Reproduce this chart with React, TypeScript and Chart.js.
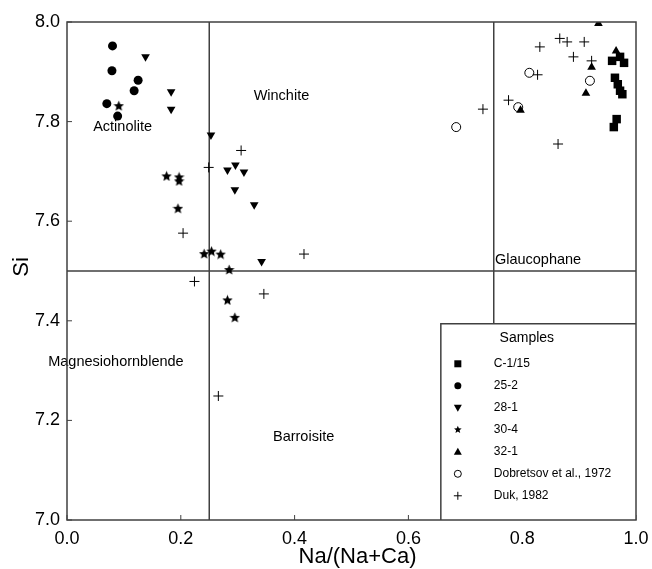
import React, { useEffect, useRef } from 'react';
import { Chart, registerables } from 'chart.js';

Chart.register(...registerables);

const FONT = '"Liberation Sans", Arial, sans-serif';
const LINE = '#404040';

const xTickValues = [0, 0.2, 0.4, 0.6, 0.8, 1.0];
const yTickValues = [7.0, 7.2, 7.4, 7.6, 7.8, 8.0];

const seriesNames = ['C-1/15', '25-2', '28-1', '30-4', '32-1', 'Dobretsov et al., 1972', 'Duk, 1982'];

const c115X = [0.958, 0.972, 0.979, 0.963, 0.968, 0.972, 0.976, 0.961, 0.966];
const c115Y = [7.922, 7.930, 7.918, 7.888, 7.875, 7.862, 7.855, 7.789, 7.805];

const s252X = [0.080, 0.079, 0.125, 0.118, 0.070, 0.089];
const s252Y = [7.952, 7.902, 7.883, 7.862, 7.836, 7.811];

const s281X = [0.138, 0.183, 0.183, 0.253, 0.282, 0.296, 0.311, 0.295, 0.329, 0.342];
const s281Y = [7.930, 7.860, 7.825, 7.773, 7.703, 7.713, 7.699, 7.663, 7.633, 7.519];

const s304X = [0.091, 0.175, 0.197, 0.197, 0.195, 0.241, 0.254, 0.270, 0.285, 0.282, 0.295];
const s304Y = [7.832, 7.691, 7.689, 7.681, 7.626, 7.535, 7.540, 7.534, 7.503, 7.442, 7.407];

const s321X = [0.934, 0.965, 0.922, 0.912, 0.797];
const s321Y = [7.997, 7.942, 7.909, 7.857, 7.823];

const dobX = [0.684, 0.8125, 0.919, 0.793];
const dobY = [7.789, 7.898, 7.882, 7.829];

const dukX = [0.831, 0.866, 0.879, 0.909, 0.890, 0.922, 0.827, 0.776, 0.863, 0.731, 0.306, 0.249, 0.204, 0.4165, 0.224, 0.346, 0.266];
const dukY = [7.950, 7.967, 7.960, 7.960, 7.930, 7.922, 7.894, 7.843, 7.755, 7.825, 7.742, 7.708, 7.576, 7.534, 7.479, 7.454, 7.249];

const boundaryX = [0.25, 0.75];
const boundaryY = [7.5];

const regionNames = ['Winchite', 'Actinolite', 'Glaucophane', 'Magnesiohornblende', 'Barroisite'];

function pts(xs: number[], ys: number[]) {
  return xs.map((x, i) => ({ x, y: ys[i] }));
}

function starPath(ctx: CanvasRenderingContext2D, cx: number, cy: number, R: number) {
  const r = R * 0.45;
  ctx.beginPath();
  for (let i = 0; i < 10; i++) {
    const a = -Math.PI / 2 + (i * Math.PI) / 5;
    const rad = i % 2 === 0 ? R : r;
    ctx.lineTo(cx + rad * Math.cos(a), cy + rad * Math.sin(a));
  }
  ctx.closePath();
}

function makeStar(size: number) {
  const c = document.createElement('canvas');
  c.width = size;
  c.height = size;
  const ctx = c.getContext('2d')!;
  starPath(ctx, size / 2, size / 2 + 0.5, size / 2);
  ctx.fillStyle = '#000';
  ctx.fill();
  return c;
}

function drawSymbol(ctx: CanvasRenderingContext2D, kind: number, x: number, y: number) {
  ctx.save();
  ctx.fillStyle = '#000';
  ctx.strokeStyle = '#000';
  ctx.lineWidth = 1;
  if (kind === 0) {
    ctx.fillRect(x - 3.5, y - 3.5, 7, 7);
  } else if (kind === 1) {
    ctx.beginPath();
    ctx.arc(x, y, 3.5, 0, Math.PI * 2);
    ctx.fill();
  } else if (kind === 2) {
    ctx.beginPath();
    ctx.moveTo(x - 4, y - 3);
    ctx.lineTo(x + 4, y - 3);
    ctx.lineTo(x, y + 4);
    ctx.closePath();
    ctx.fill();
  } else if (kind === 3) {
    starPath(ctx, x, y, 4);
    ctx.fill();
  } else if (kind === 4) {
    ctx.beginPath();
    ctx.moveTo(x - 4, y + 3);
    ctx.lineTo(x + 4, y + 3);
    ctx.lineTo(x, y - 4);
    ctx.closePath();
    ctx.fill();
  } else if (kind === 5) {
    ctx.beginPath();
    ctx.arc(x, y, 3.5, 0, Math.PI * 2);
    ctx.stroke();
  } else {
    ctx.beginPath();
    ctx.moveTo(x - 4, y);
    ctx.lineTo(x + 4, y);
    ctx.moveTo(x, y - 4);
    ctx.lineTo(x, y + 4);
    ctx.stroke();
  }
  ctx.restore();
}

const framePlugin = {
  id: 'framePlugin',
  beforeDatasetsDraw(chart: any) {
    const { ctx, chartArea: a, scales } = chart;
    const xs = scales.x;
    const ys = scales.y;
    ctx.save();
    ctx.strokeStyle = LINE;
    ctx.lineWidth = 1.5;
    ctx.beginPath();
    boundaryX.forEach((v) => {
      const px = xs.getPixelForValue(v);
      ctx.moveTo(px, a.top);
      ctx.lineTo(px, a.bottom);
    });
    boundaryY.forEach((v) => {
      const py = ys.getPixelForValue(v);
      ctx.moveTo(a.left, py);
      ctx.lineTo(a.right, py);
    });
    ctx.stroke();
    ctx.lineWidth = 1;
    ctx.beginPath();
    xTickValues.forEach((v) => {
      const px = xs.getPixelForValue(v);
      ctx.moveTo(px, a.bottom);
      ctx.lineTo(px, a.bottom - 5);
    });
    yTickValues.forEach((v) => {
      const py = ys.getPixelForValue(v);
      ctx.moveTo(a.left, py);
      ctx.lineTo(a.left + 5, py);
    });
    ctx.stroke();
    ctx.restore();
  },
  afterDatasetsDraw(chart: any) {
    const { ctx, chartArea: a, scales } = chart;
    const xs = scales.x;
    const ys = scales.y;
    ctx.save();
    ctx.fillStyle = '#000';
    ctx.font = `14.5px ${FONT}`;
    ctx.textAlign = 'left';
    ctx.textBaseline = 'middle';
    const regionPos = [
      [0.328, 7.852],
      [0.046, 7.79],
      [0.752, 7.523],
      [-0.033, 7.318],
      [0.362, 7.167],
    ];
    regionNames.forEach((n, i) => {
      ctx.fillText(n, xs.getPixelForValue(regionPos[i][0]), ys.getPixelForValue(regionPos[i][1]));
    });

    const lx = xs.getPixelForValue(0.657);
    const ly = ys.getPixelForValue(7.394);
    ctx.fillStyle = '#fff';
    ctx.fillRect(lx, ly, a.right - lx, a.bottom - ly);
    ctx.strokeStyle = LINE;
    ctx.lineWidth = 1.5;
    ctx.beginPath();
    ctx.moveTo(lx, a.bottom);
    ctx.lineTo(lx, ly);
    ctx.lineTo(a.right, ly);
    ctx.stroke();
    ctx.fillStyle = '#000';
    ctx.font = `14px ${FONT}`;
    ctx.textAlign = 'center';
    ctx.fillText('Samples', lx + 86, ly + 14);
    ctx.font = `12px ${FONT}`;
    ctx.textAlign = 'left';
    seriesNames.forEach((n, i) => {
      const yy = ly + 40 + i * 22;
      drawSymbol(ctx, i, lx + 17, yy);
      ctx.fillStyle = '#000';
      ctx.fillText(n, lx + 53, yy);
    });

    ctx.strokeStyle = LINE;
    ctx.lineWidth = 1.5;
    ctx.strokeRect(a.left, a.top, a.right - a.left, a.bottom - a.top);

    ctx.fillStyle = '#000';
    ctx.font = `22px ${FONT}`;
    ctx.textAlign = 'center';
    ctx.textBaseline = 'middle';
    ctx.fillText('Na/(Na+Ca)', (a.left + a.right) / 2 + 6, 557);
    ctx.translate(22, (a.top + a.bottom) / 2 - 4);
    ctx.rotate(-Math.PI / 2);
    ctx.fillText('Si', 0, 0);
    ctx.restore();
  },
};

export default function App() {
  const ref = useRef<HTMLCanvasElement | null>(null);

  useEffect(() => {
    if (!ref.current) return;
    const star = makeStar(11);
    const chart = new Chart(ref.current, {
      type: 'scatter',
      data: {
        datasets: [
          {
            label: seriesNames[0],
            data: pts(c115X, c115Y),
            pointStyle: 'rect',
            pointRadius: 6,
            backgroundColor: '#000',
            borderColor: '#000',
            borderWidth: 0,
          },
          {
            label: seriesNames[1],
            data: pts(s252X, s252Y),
            pointStyle: 'circle',
            pointRadius: 4.5,
            backgroundColor: '#000',
            borderColor: '#000',
            borderWidth: 0,
          },
          {
            label: seriesNames[2],
            data: pts(s281X, s281Y),
            pointStyle: 'triangle',
            pointRotation: 180,
            pointRadius: 5,
            backgroundColor: '#000',
            borderColor: '#000',
            borderWidth: 0,
          },
          {
            label: seriesNames[3],
            data: pts(s304X, s304Y),
            pointStyle: star as any,
            pointRadius: 5,
            backgroundColor: '#000',
            borderColor: '#000',
          },
          {
            label: seriesNames[4],
            data: pts(s321X, s321Y),
            pointStyle: 'triangle',
            pointRadius: 5,
            backgroundColor: '#000',
            borderColor: '#000',
            borderWidth: 0,
          },
          {
            label: seriesNames[5],
            data: pts(dobX, dobY),
            pointStyle: 'circle',
            pointRadius: 4.5,
            backgroundColor: 'rgba(0,0,0,0)',
            borderColor: '#000',
            borderWidth: 1,
          },
          {
            label: seriesNames[6],
            data: pts(dukX, dukY),
            pointStyle: 'cross',
            pointRadius: 5,
            backgroundColor: '#000',
            borderColor: '#000',
            borderWidth: 1,
          },
        ],
      },
      options: {
        responsive: false,
        animation: false,
        events: [],
        layout: { padding: { top: 22, right: 16, left: 0, bottom: 0 } },
        plugins: {
          legend: { display: false },
          tooltip: { enabled: false },
        },
        scales: {
          x: {
            type: 'linear',
            min: 0,
            max: 1,
            afterFit: (s: any) => {
              s.height = 49;
              s.paddingLeft = 0;
              s.paddingRight = 0;
            },
            afterBuildTicks: (s: any) => {
              s.ticks = xTickValues.map((v) => ({ value: v }));
            },
            ticks: {
              padding: 8,
              color: '#000',
              font: { family: FONT, size: 18 },
              callback: (v: any) => Number(v).toFixed(1),
            },
            grid: { display: false, drawTicks: false },
            border: { display: false },
          },
          y: {
            type: 'linear',
            min: 7,
            max: 8,
            afterFit: (s: any) => {
              s.width = 67;
              s.paddingTop = 0;
              s.paddingBottom = 0;
            },
            afterBuildTicks: (s: any) => {
              s.ticks = yTickValues.map((v) => ({ value: v }));
            },
            ticks: {
              padding: 7,
              color: '#000',
              font: { family: FONT, size: 18 },
              callback: (v: any) => Number(v).toFixed(1),
            },
            grid: { display: false, drawTicks: false },
            border: { display: false },
          },
        },
      },
      plugins: [framePlugin],
    } as any);
    return () => chart.destroy();
  }, []);

  return (
    <div style={{ position: 'absolute', left: 0, top: 0, width: 652, height: 569, background: '#fff' }}>
      <canvas ref={ref} width={652} height={569} style={{ width: 652, height: 569, display: 'block' }} />
    </div>
  );
}
